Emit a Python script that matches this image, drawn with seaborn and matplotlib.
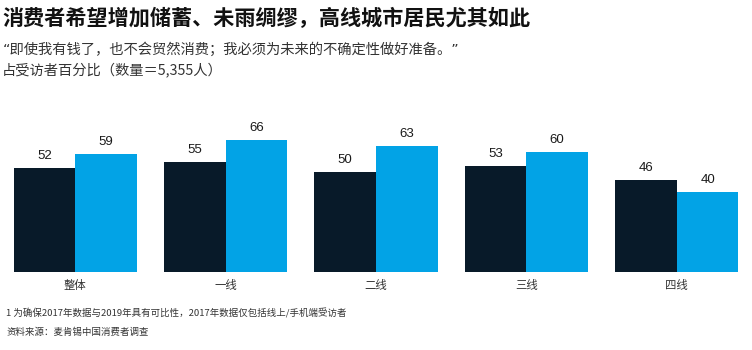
import matplotlib
matplotlib.use("Agg")
import matplotlib.pyplot as plt
import seaborn as sns
import pandas as pd

categories = ["整体", "一线", "二线", "三线", "四线"]
series_names = ["2017", "2019"]
values_2017 = [52, 55, 50, 53, 46]
values_2019 = [59, 66, 63, 60, 40]

title = "消费者希望增加储蓄、未雨绸缪，高线城市居民尤其如此"
subtitle1 = "“即使我有钱了，也不会贸然消费；我必须为未来的不确定性做好准备。”"
subtitle2 = "占受访者百分比（数量＝5,355人）"
note1 = "1 为确保2017年数据与2019年具有可比性，2017年数据仅包括线上/手机端受访者"
note2 = "资料来源：麦肯锡中国消费者调查"

df = pd.DataFrame({
    "cat": categories * 2,
    "year": [series_names[0]] * len(categories) + [series_names[1]] * len(categories),
    "val": values_2017 + values_2019,
})

sns.set_theme(style="white")
plt.rcParams['font.family'] = ['Noto Sans CJK SC', 'DejaVu Sans']

fig = plt.figure(figsize=(7.52, 3.5), dpi=100)
fig.patch.set_facecolor("white")
ax = fig.add_axes([0.0, 78 / 350, 1.0, 160 / 350])

palette = {"2017": "#081a29", "2019": "#02a3e6"}
sns.barplot(data=df, x="cat", y="val", hue="year", palette=palette,
            width=0.82, gap=0, saturation=1, legend=False, ax=ax,
            edgecolor="none", linewidth=0)

for c in ax.containers:
    ax.bar_label(c, padding=4, fontsize=9.5, color="#1a1a1a",
                 family=["Liberation Sans", "DejaVu Sans"])

ax.set_xlim(-0.5, 4.5)
ax.set_ylim(0, 80)
ax.set_xlabel("")
ax.set_ylabel("")
ax.set_yticks([])
ax.tick_params(axis="x", length=0, pad=6, labelsize=8.2, labelcolor="#333333")
for s in ax.spines.values():
    s.set_visible(False)
ax.set_facecolor("none")

fig.text(0.003, 1 - 18 / 350, title, fontsize=15.2, fontweight="bold",
         color="#111111", va="center", ha="left")
fig.text(0.003, 1 - 50 / 350, subtitle1, fontsize=10.3, color="#333333",
         va="center", ha="left", family=["DejaVu Sans", "Noto Sans CJK SC"])
fig.text(0.003, 1 - 70 / 350, subtitle2, fontsize=10.3, color="#333333",
         va="center", ha="left")
fig.text(0.008, 1 - 313 / 350, note1, fontsize=6.8, color="#333333",
         va="center", ha="left")
fig.text(0.008, 1 - 332 / 350, note2, fontsize=6.8, color="#333333",
         va="center", ha="left")

fig.savefig("out.png", dpi=100, facecolor="white")
